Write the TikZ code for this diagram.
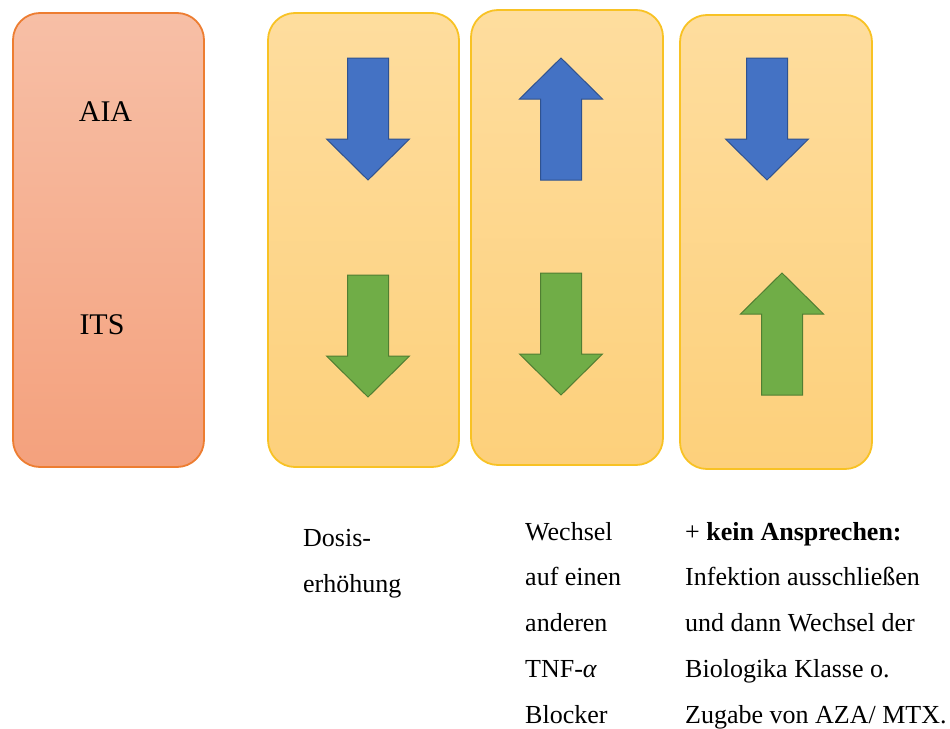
\documentclass[tikz,border=0pt]{standalone}
\usepackage{fontspec}
\setmainfont{Liberation Serif}
\usetikzlibrary{positioning}

\definecolor{salmonTop}{HTML}{F7BFA6}
\definecolor{salmonBot}{HTML}{F4A17D}
\definecolor{salmonLine}{HTML}{ED7D31}
\definecolor{goldTop}{HTML}{FEDD9E}
\definecolor{goldBot}{HTML}{FDD07B}
\definecolor{goldLine}{HTML}{F8C224}
\definecolor{arrBlue}{HTML}{4472C4}
\definecolor{arrBlueLine}{HTML}{2F528F}
\definecolor{arrGreen}{HTML}{70AD47}
\definecolor{arrGreenLine}{HTML}{507E32}

\tikzset{
  pics/fatarrow/.style={code={
    \draw[pic actions] (-20.5,-61) -- (20.5,-61) -- (20.5,20) -- (41.5,20)
      -- (0,61) -- (-41.5,20) -- (-20.5,20) -- cycle;
  }},
}

\begin{document}
\begin{tikzpicture}[
  x=1pt, y=-1pt,
  panel/.style={rectangle, rounded corners=27pt, line width=1.8pt, inner sep=0pt, minimum width=191pt, minimum height=454pt},
  redpanel/.style={panel, draw=salmonLine, top color=salmonTop, bottom color=salmonBot},
  goldpanel/.style={panel, draw=goldLine, top color=goldTop, bottom color=goldBot},
  bluearr/.style={fill=arrBlue, draw=arrBlueLine, line width=1pt},
  greenarr/.style={fill=arrGreen, draw=arrGreenLine, line width=1pt},
  tag/.style={font=\fontsize{30}{36}\selectfont, inner sep=0pt},
  note/.style={font=\fontsize{26}{45.7}\selectfont, align=left, anchor=north west, inner sep=0pt},
]
\useasboundingbox (0,0) rectangle (950,728);

% panels
\node[redpanel] (markers) at (108.5,240) {};
\node[goldpanel] (dose) at (363.5,240) {};
\node[goldpanel, minimum width=192pt, minimum height=455pt] (switch) at (567,237.5) {};
\node[goldpanel, minimum width=192pt] (noresp) at (776,242) {};

\node[tag] (aia) at (105.5,112) {AIA};
\node[tag] (its) at (102,325) {ITS};

% arrows: AIA row, ITS row
\pic[bluearr] at (368,119) {fatarrow};
\pic[greenarr] at (368,336) {fatarrow};
\pic[bluearr, rotate=180] at (561,119) {fatarrow};
\pic[greenarr] at (561,334) {fatarrow};
\pic[bluearr] at (767,119) {fatarrow};
\pic[greenarr, rotate=180] at (782,334) {fatarrow};

% notes below
\node[note] (doseTxt) at (303,529) {Dosis-\\erhöhung};
\node[note] (switchTxt) at (525,522) {Wechsel\\auf einen\\anderen\\TNF-\textit{α}\\Blocker};
\node[note] (norespTxt) at (685,522) {+ \textbf{kein Ansprechen:}\\Infektion ausschließen\\und dann Wechsel der\\Biologika Klasse o.\\Zugabe von AZA/ MTX.};

\end{tikzpicture}
\end{document}
